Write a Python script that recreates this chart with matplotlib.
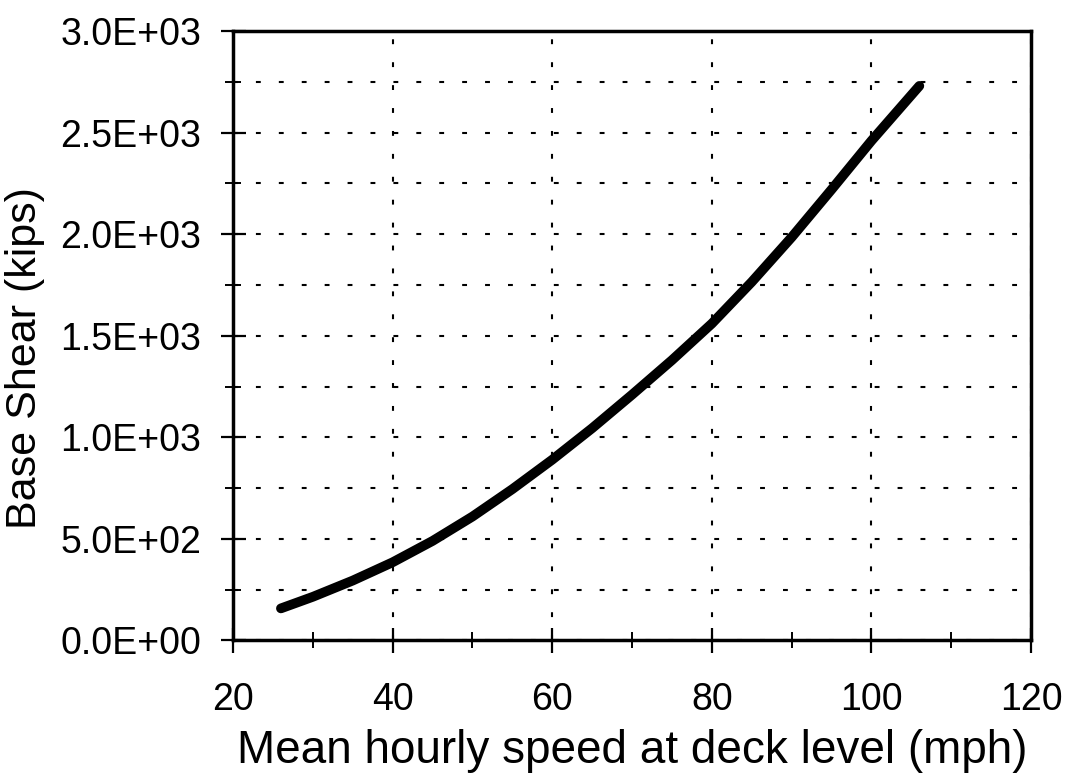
#!/usr/bin/python

"""
Base shear versus mean hourly wind speed at deck level.
"""

import matplotlib
matplotlib.use('Agg')
import matplotlib.pyplot as plt
from matplotlib.ticker import MultipleLocator, FormatStrFormatter


# values
speed = [26, 30, 35, 40, 45, 50, 55, 60, 65, 70, 75, 80, 85, 90, 95, 100, 106]
base_shear = [158, 215, 295, 385, 490, 610, 745, 890, 1045, 1210, 1380, 1560,
              1765, 1985, 2220, 2460, 2730]

x_label = 'Mean hourly speed at deck level (mph)'
y_label = 'Base Shear (kips)'


def plot_base_shear():
    plt.rcParams['font.family'] = ['Liberation Sans', 'DejaVu Sans']
    plt.rcParams['lines.scale_dashes'] = False

    fig = plt.figure(figsize=(10.71, 7.77), dpi=100)
    ax = fig.add_axes([0.2176, 0.1757, 0.9627 - 0.2176, 0.960 - 0.1757])

    ax.plot(speed, base_shear, color='black', linewidth=7,
            solid_capstyle='round', zorder=3)

    ax.set_xlim(20, 120)
    ax.set_ylim(0, 3000)
    ax.xaxis.set_major_locator(MultipleLocator(20))
    ax.xaxis.set_minor_locator(MultipleLocator(10))
    ax.yaxis.set_major_locator(MultipleLocator(500))
    ax.yaxis.set_minor_locator(MultipleLocator(250))
    ax.yaxis.set_major_formatter(FormatStrFormatter('%.1E'))

    grid_style = dict(color='black', linewidth=1.5, linestyle=(0, (3.5, 13)))
    ax.grid(True, which='major', axis='x', **grid_style)
    ax.grid(True, which='both', axis='y', **grid_style)
    ax.set_axisbelow(True)

    for side in ax.spines.values():
        side.set_linewidth(2.5)

    ax.tick_params(which='major', direction='inout', length=18, width=1.6,
                   labelsize=27)
    ax.tick_params(which='minor', direction='inout', length=12, width=1.4)
    ax.tick_params(axis='x', which='major', pad=21)
    ax.tick_params(axis='y', which='major', pad=14)

    ax.set_xlabel(x_label, fontsize=33, labelpad=8)
    ax.set_ylabel(y_label, fontsize=31)
    ax.yaxis.set_label_coords(-0.236, 0.4635)

    fig.savefig('out.png', dpi=100)


if __name__ == "__main__":
    plot_base_shear()
